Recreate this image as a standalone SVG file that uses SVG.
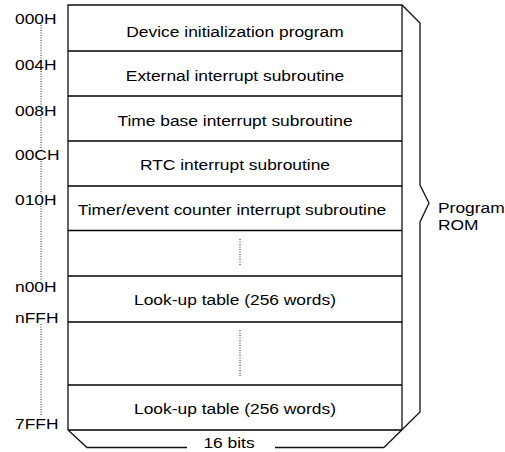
<svg xmlns="http://www.w3.org/2000/svg" width="505" height="452" viewBox="0 0 505 452">
<style>
text{font-family:"Liberation Sans",Arial,sans-serif;font-size:14.5px;fill:#000}
.c{text-anchor:middle}
.sep{stroke:#000;stroke-width:1.6;fill:none}
.out{stroke:#111;stroke-width:1.3;fill:none}
.dot{stroke:#222;stroke-width:1;stroke-dasharray:1 1.5;fill:none}
</style>
<rect x="0" y="0" width="505" height="452" fill="#fff"/>
<g id="memory-outline">
<path class="out" d="M68,430 V5 H402 L420,23 V185 L429,203 L420,222 V412 L384,447.5"/>
<path class="out" d="M402,5 V430"/>
<path class="out" d="M68,430 L87,447.5 H187 M275,447.5 H384"/>
<path class="sep" d="M68,430 H402"/>
</g>
<g id="row-device"><path class="sep" d="M68,51 H402"/><text class="c" transform="translate(235,37) scale(1.2 1)">Device initialization program</text></g>
<g id="row-external"><path class="sep" d="M68,96 H402"/><text class="c" transform="translate(235,81) scale(1.2 1)">External interrupt subroutine</text></g>
<g id="row-timebase"><path class="sep" d="M68,141 H402"/><text class="c" transform="translate(235,126) scale(1.2 1)">Time base interrupt subroutine</text></g>
<g id="row-rtc"><path class="sep" d="M68,186 H402"/><text class="c" transform="translate(235,170) scale(1.2 1)">RTC interrupt subroutine</text></g>
<g id="row-timer"><path class="sep" d="M68,230.5 H402"/><text class="c" transform="translate(232,215) scale(1.2 1)">Timer/event counter interrupt subroutine</text></g>
<g id="row-gap1"><path class="sep" d="M68,276 H402"/><path class="dot" d="M240,239 V266"/></g>
<g id="row-lookup1"><path class="sep" d="M68,322 H402"/><text class="c" transform="translate(235,305) scale(1.2 1)">Look-up table (256 words)</text></g>
<g id="row-gap2"><path class="sep" d="M68,385 H402"/><path class="dot" d="M240,330 V376"/></g>
<g id="row-lookup2"><text class="c" transform="translate(235,414) scale(1.2 1)">Look-up table (256 words)</text></g>
<g id="addresses">
<text transform="translate(15,24) scale(1.2 1)">000H</text>
<text transform="translate(15,70) scale(1.2 1)">004H</text>
<text transform="translate(15,116) scale(1.2 1)">008H</text>
<text transform="translate(15,160) scale(1.2 1)">00CH</text>
<text transform="translate(15,205) scale(1.2 1)">010H</text>
<text transform="translate(15,292) scale(1.2 1)">n00H</text>
<text transform="translate(15,323) scale(1.2 1)">nFFH</text>
<text transform="translate(15,429) scale(1.2 1)">7FFH</text>
</g>
<g id="connectors">
<path class="dot" d="M41,25 V60 M41,71 V106 M41,117 V149 M41,161 V194 M41,206 V281 M41,324 V416"/>
</g>
<g id="label-rom">
<text transform="translate(438,213) scale(1.2 1)">Program</text>
<text transform="translate(438,230) scale(1.2 1)">ROM</text>
</g>
<g id="label-width">
<text class="c" transform="translate(229,448) scale(1.2 1)">16 bits</text>
</g>
</svg>
